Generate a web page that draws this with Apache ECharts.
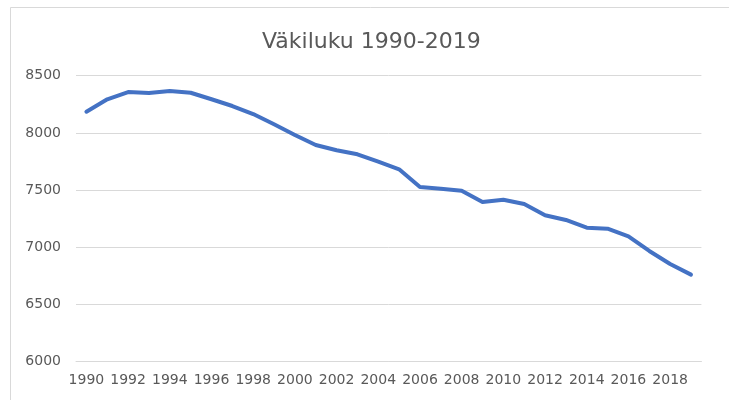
<!DOCTYPE html>
<html>
<head>
<meta charset="utf-8">
<script src="https://cdn.jsdelivr.net/npm/echarts@6/dist/echarts.min.js"></script>
<style>html,body{margin:0;padding:0;background:#fff}#c{width:729px;height:400px}</style>
</head>
<body>
<div id="c"></div>
<script>
const years = ['1990','1991','1992','1993','1994','1995','1996','1997','1998','1999','2000','2001','2002','2003','2004','2005','2006','2007','2008','2009','2010','2011','2012','2013','2014','2015','2016','2017','2018','2019'];
const population = [8185,8294,8357,8349,8366,8351,8294,8235,8165,8075,7982,7894,7848,7813,7748,7682,7527,7512,7495,7396,7416,7379,7280,7239,7171,7163,7096,6968,6854,6761];
const titleText = 'Väkiluku 1990-2019';

const chart = echarts.init(document.getElementById('c'));
chart.setOption({
  animation: false,
  backgroundColor: '#fff',
  graphic: [{
    type: 'rect', silent: true,
    shape: { x: 10.5, y: 7.5, width: 900, height: 600 },
    style: { fill: 'none', stroke: '#d9d9d9', lineWidth: 1 }
  }],
  title: {
    text: titleText, left: 257, top: 26,
    textStyle: { fontFamily: 'DejaVu Sans', fontSize: 22, fontWeight: 'normal', color: '#595959' }
  },
  grid: { left: 76, right: 27.6, top: 75.7, bottom: 38.3, containLabel: false },
  xAxis: {
    type: 'category', data: years, boundaryGap: true,
    axisLine: { show: true, lineStyle: { color: '#d9d9d9', width: 1 } },
    axisTick: { show: false },
    axisLabel: { interval: 1, margin: 12, color: '#595959', fontFamily: 'DejaVu Sans', fontSize: 14 }
  },
  yAxis: {
    type: 'value', min: 6000, max: 8500, interval: 500,
    axisLine: { show: false }, axisTick: { show: false },
    splitLine: { lineStyle: { color: '#d9d9d9', width: 1 } },
    axisLabel: { margin: 15, color: '#595959', fontFamily: 'DejaVu Sans', fontSize: 14, formatter: function (v) { return String(v); } }
  },
  series: [{
    type: 'line', data: population, symbol: 'none',
    lineStyle: { color: '#4472C4', width: 4, cap: 'round', join: 'round' }
  }]
});
</script>
</body>
</html>
